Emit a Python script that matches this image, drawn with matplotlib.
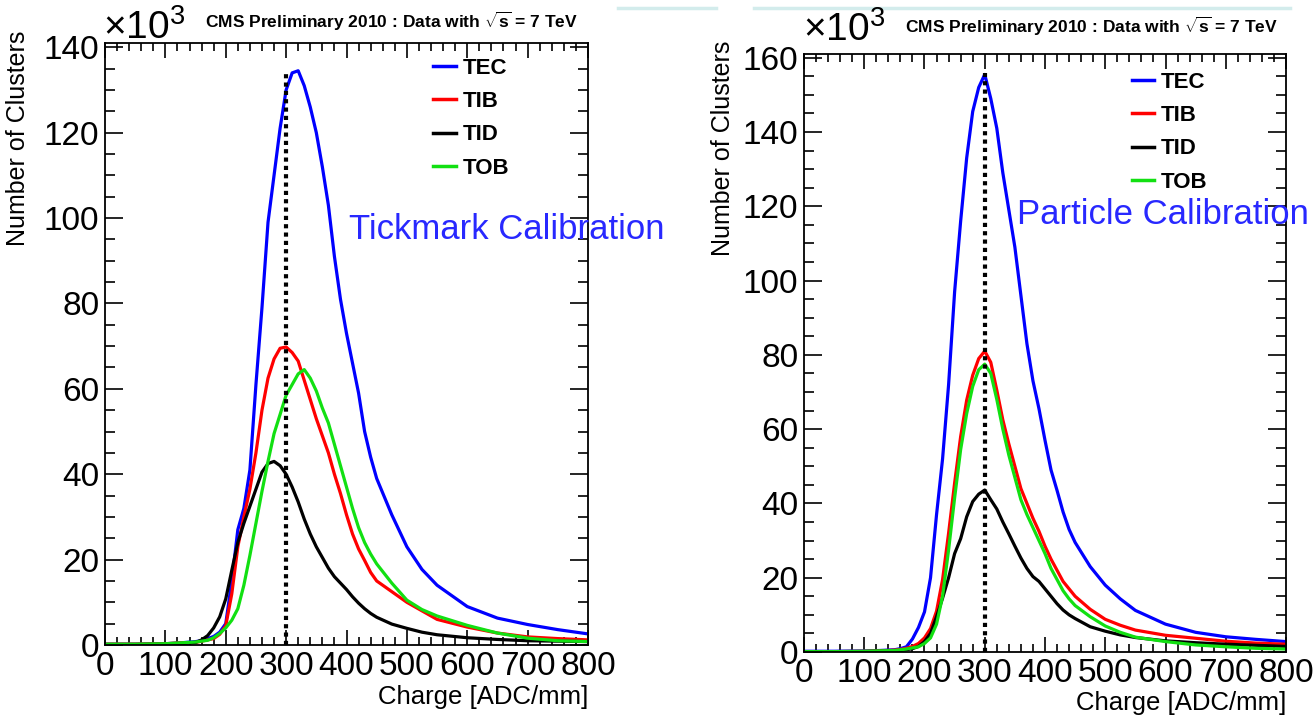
#! /usr/bin/env python3

import matplotlib
matplotlib.use("Agg")
import matplotlib.pyplot as plt
from matplotlib.lines import Line2D
from matplotlib.ticker import MultipleLocator
import numpy as np

plt.rcParams['font.family'] = ['Liberation Sans', 'DejaVu Sans']
plt.rcParams['mathtext.fontset'] = 'custom'
plt.rcParams['mathtext.rm'] = 'Liberation Sans'
plt.rcParams['mathtext.bf'] = 'Liberation Sans:bold'

# charge bins [ADC/mm]
charge = [0, 50, 100, 125,
          150, 160, 170, 180, 190, 200, 210, 220, 230, 240, 250, 260, 270, 280,
          290, 300, 310, 320, 330, 340, 350, 360, 370, 380, 390, 400, 410, 420,
          430, 440, 450,
          475, 500, 525, 550, 600, 650, 700, 750, 800]

# number of clusters (x10^3), tickmark calibration
tick_tec = [0.2, 0.2, 0.3, 0.5,
            0.8, 1.0, 1.5, 2.0, 3.0, 5.0, 15, 27, 32, 41, 61, 79, 99, 110,
            121, 130, 134, 134.5, 131, 126, 120, 112, 103, 91, 81, 73, 66, 59,
            50, 44, 39,
            30.5, 23, 17.7, 14, 9, 6.3, 4.8, 3.6, 2.6]
tick_tib = [0.2, 0.2, 0.3, 0.5,
            0.6, 0.9, 1.2, 1.5, 2.5, 4.5, 12, 23, 30, 36.5, 45, 55, 62.5, 67,
            69.5, 69.8, 68.5, 66.5, 62, 57.5, 53, 49, 45, 40, 35.5, 30.5, 26, 22.5,
            19.8, 17, 15,
            12.5, 10, 8, 6, 4.2, 2.8, 1.9, 1.5, 1.2]
tick_tid = [0.1, 0.1, 0.2, 0.3,
            0.6, 1.2, 2.2, 4, 6.6, 10.8, 17.5, 24, 28.5, 32.5, 36.5, 40.5, 42.5, 43,
            42, 40, 37, 33.5, 29.5, 26, 23, 20.5, 18, 16, 14.5, 13, 11.3, 9.8,
            8.5, 7.4, 6.5,
            4.9, 3.9, 3, 2.4, 1.7, 1.3, 1.0, 0.9, 0.8]
tick_tob = [0.2, 0.2, 0.3, 0.5,
            0.7, 0.9, 1.1, 1.7, 2.7, 4, 5.8, 8.5, 14, 21, 28.5, 36, 43, 49.5,
            54, 58.5, 61, 63.5, 64.5, 62.5, 59.5, 55.5, 52, 47, 42, 37, 32, 27.5,
            24, 21.3, 19,
            14.5, 10.5, 8.3, 6.8, 4.6, 2.8, 1.6, 1.0, 0.8]

# number of clusters (x10^3), particle calibration
part_tec = [0.2, 0.2, 0.3, 0.4,
            0.6, 0.9, 1.4, 3.5, 6.6, 10.8, 20, 37, 52, 72, 97, 116, 133, 145.5,
            152, 155.5, 149, 141, 129, 119, 109, 96, 83, 73, 65.5, 57, 49, 43.5,
            37.7, 33, 29.5,
            23, 18, 14.3, 11.2, 7.5, 5.3, 4.1, 3.4, 2.8]
part_tib = [0.1, 0.1, 0.2, 0.3,
            0.5, 0.7, 1.0, 1.5, 2.3, 3.8, 6.3, 11, 19.5, 32, 45.5, 58, 67.8, 74.5,
            79, 81, 78, 70.5, 62.5, 56, 50, 44, 40, 36, 32.5, 28.5, 25, 22,
            19, 17, 15,
            11.5, 8.8, 7.2, 5.9, 4.5, 3.7, 2.9, 2.4, 2.1]
part_tid = [0.1, 0.1, 0.1, 0.2,
            0.3, 0.4, 0.6, 0.9, 1.5, 2.8, 5, 9.5, 14.5, 20, 26.5, 30.5, 36.4, 40.5,
            42.5, 43.6, 41, 38.5, 35, 31.8, 28.5, 25.3, 22.5, 20.3, 19, 17, 15, 13,
            11.3, 10, 9,
            6.8, 5.6, 4.6, 3.9, 3, 2.5, 2.1, 1.8, 1.5]
part_tob = [0.1, 0.1, 0.2, 0.3,
            0.4, 0.6, 0.8, 1.1, 1.4, 2.3, 3.8, 7.5, 15, 27.5, 41.5, 54.5, 64.2, 71.5,
            76, 77.5, 75, 68, 60, 53, 47, 41, 37, 33.5, 30, 26.5, 22.5, 19.5,
            16.5, 14.3, 12.5,
            9.5, 7, 5.3, 4, 2.8, 1.9, 1.4, 1.0, 0.8]

detectors = ['TEC', 'TIB', 'TID', 'TOB']
colors = ['#0000ff', '#ff0000', '#000000', '#12e012']
reference_charge = 300
marker_top_tick = 134
marker_top_part = 156

title = r'CMS Preliminary 2010 : Data with $\mathbf{\sqrt{s}}$ = 7 TeV'

W, H = 1316, 715


def px(x, y):
    return x / W, 1 - y / H


def draw_panel(fig, rect, series, ymax, marker_top, note, note_xy,
               leg_xy, label_xy):
    ax = fig.add_axes(rect)
    for name, vals, c in zip(detectors, series, colors):
        ax.plot(charge, vals, '-', color=c, lw=2.3, label=name)
    ax.vlines(reference_charge, 0, marker_top, colors='k', lw=3,
              linestyles=(0, (1, 1)))

    ax.set_xlim(0, 800)
    ax.set_ylim(0, ymax)
    ax.xaxis.set_major_locator(MultipleLocator(100))
    ax.xaxis.set_minor_locator(MultipleLocator(20))
    ax.yaxis.set_major_locator(MultipleLocator(20))
    ax.yaxis.set_minor_locator(MultipleLocator(5))
    ax.tick_params(which='both', direction='in', top=True, right=True,
                   labelsize=24, width=1.2)
    ax.tick_params(axis='y', which='major', length=13, pad=4)
    ax.tick_params(axis='y', which='minor', length=7)
    ax.tick_params(axis='x', which='major', length=11, pad=4)
    ax.tick_params(axis='x', which='minor', length=6)
    for s in ax.spines.values():
        s.set_linewidth(1.3)

    ax.set_xlabel('Charge [ADC/mm]', fontsize=18.5, loc='right')
    ax.xaxis.set_label_coords(1.0, -0.066)
    ax.set_ylabel('Number of Clusters', fontsize=18, loc='top')
    ax.yaxis.set_label_coords(*label_xy)

    ax.legend(loc='upper left', bbox_to_anchor=leg_xy, frameon=False,
              prop={'weight': 'bold', 'size': 16}, handlelength=1.0,
              handletextpad=0.3, labelspacing=0.55, borderpad=0,
              borderaxespad=0)
    for line in ax.get_legend().get_lines():
        line.set_linewidth(2.5)

    ax.text(note_xy[0], note_xy[1], note, transform=ax.transAxes,
            color='#2828ff', fontsize=25, va='center', ha='left',
            clip_on=False)
    return ax


def mkplot():
    fig = plt.figure(figsize=(W / 100, H / 100), dpi=100)

    # slide decoration at the top
    for x0, x1 in [(618, 716), (754, 1290)]:
        fig.add_artist(Line2D([x0 / W, x1 / W], [1 - 8 / H, 1 - 8 / H],
                              color='#d3ecec', lw=2.5))

    # left: tickmark calibration
    l, r, t, b = 105, 588, 43, 645
    draw_panel(fig, [l / W, 1 - b / H, (r - l) / W, (b - t) / H],
               [tick_tec, tick_tib, tick_tid, tick_tob], 141,
               marker_top_tick, 'Tickmark Calibration', (0.506, 0.69),
               (0.68, 0.975), (-0.155, 1.02))
    fig.text(*px(103, 28), r'$\times$10$^3$', fontsize=28, va='center')
    fig.text(*px(205, 21), title, fontsize=12.5, fontweight='bold',
             va='center')

    # right: particle calibration
    l, r, t, b = 804, 1286, 54, 652
    draw_panel(fig, [l / W, 1 - b / H, (r - l) / W, (b - t) / H],
               [part_tec, part_tib, part_tid, part_tob], 161,
               marker_top_part, 'Particle Calibration', (0.442, 0.731),
               (0.68, 0.97), (-0.143, 1.023))
    fig.text(*px(803, 30), r'$\times$10$^3$', fontsize=28, va='center')
    fig.text(*px(905, 26), title, fontsize=12.5, fontweight='bold',
             va='center')

    fig.savefig('out.png', dpi=100)


if __name__ == "__main__":
    mkplot()
